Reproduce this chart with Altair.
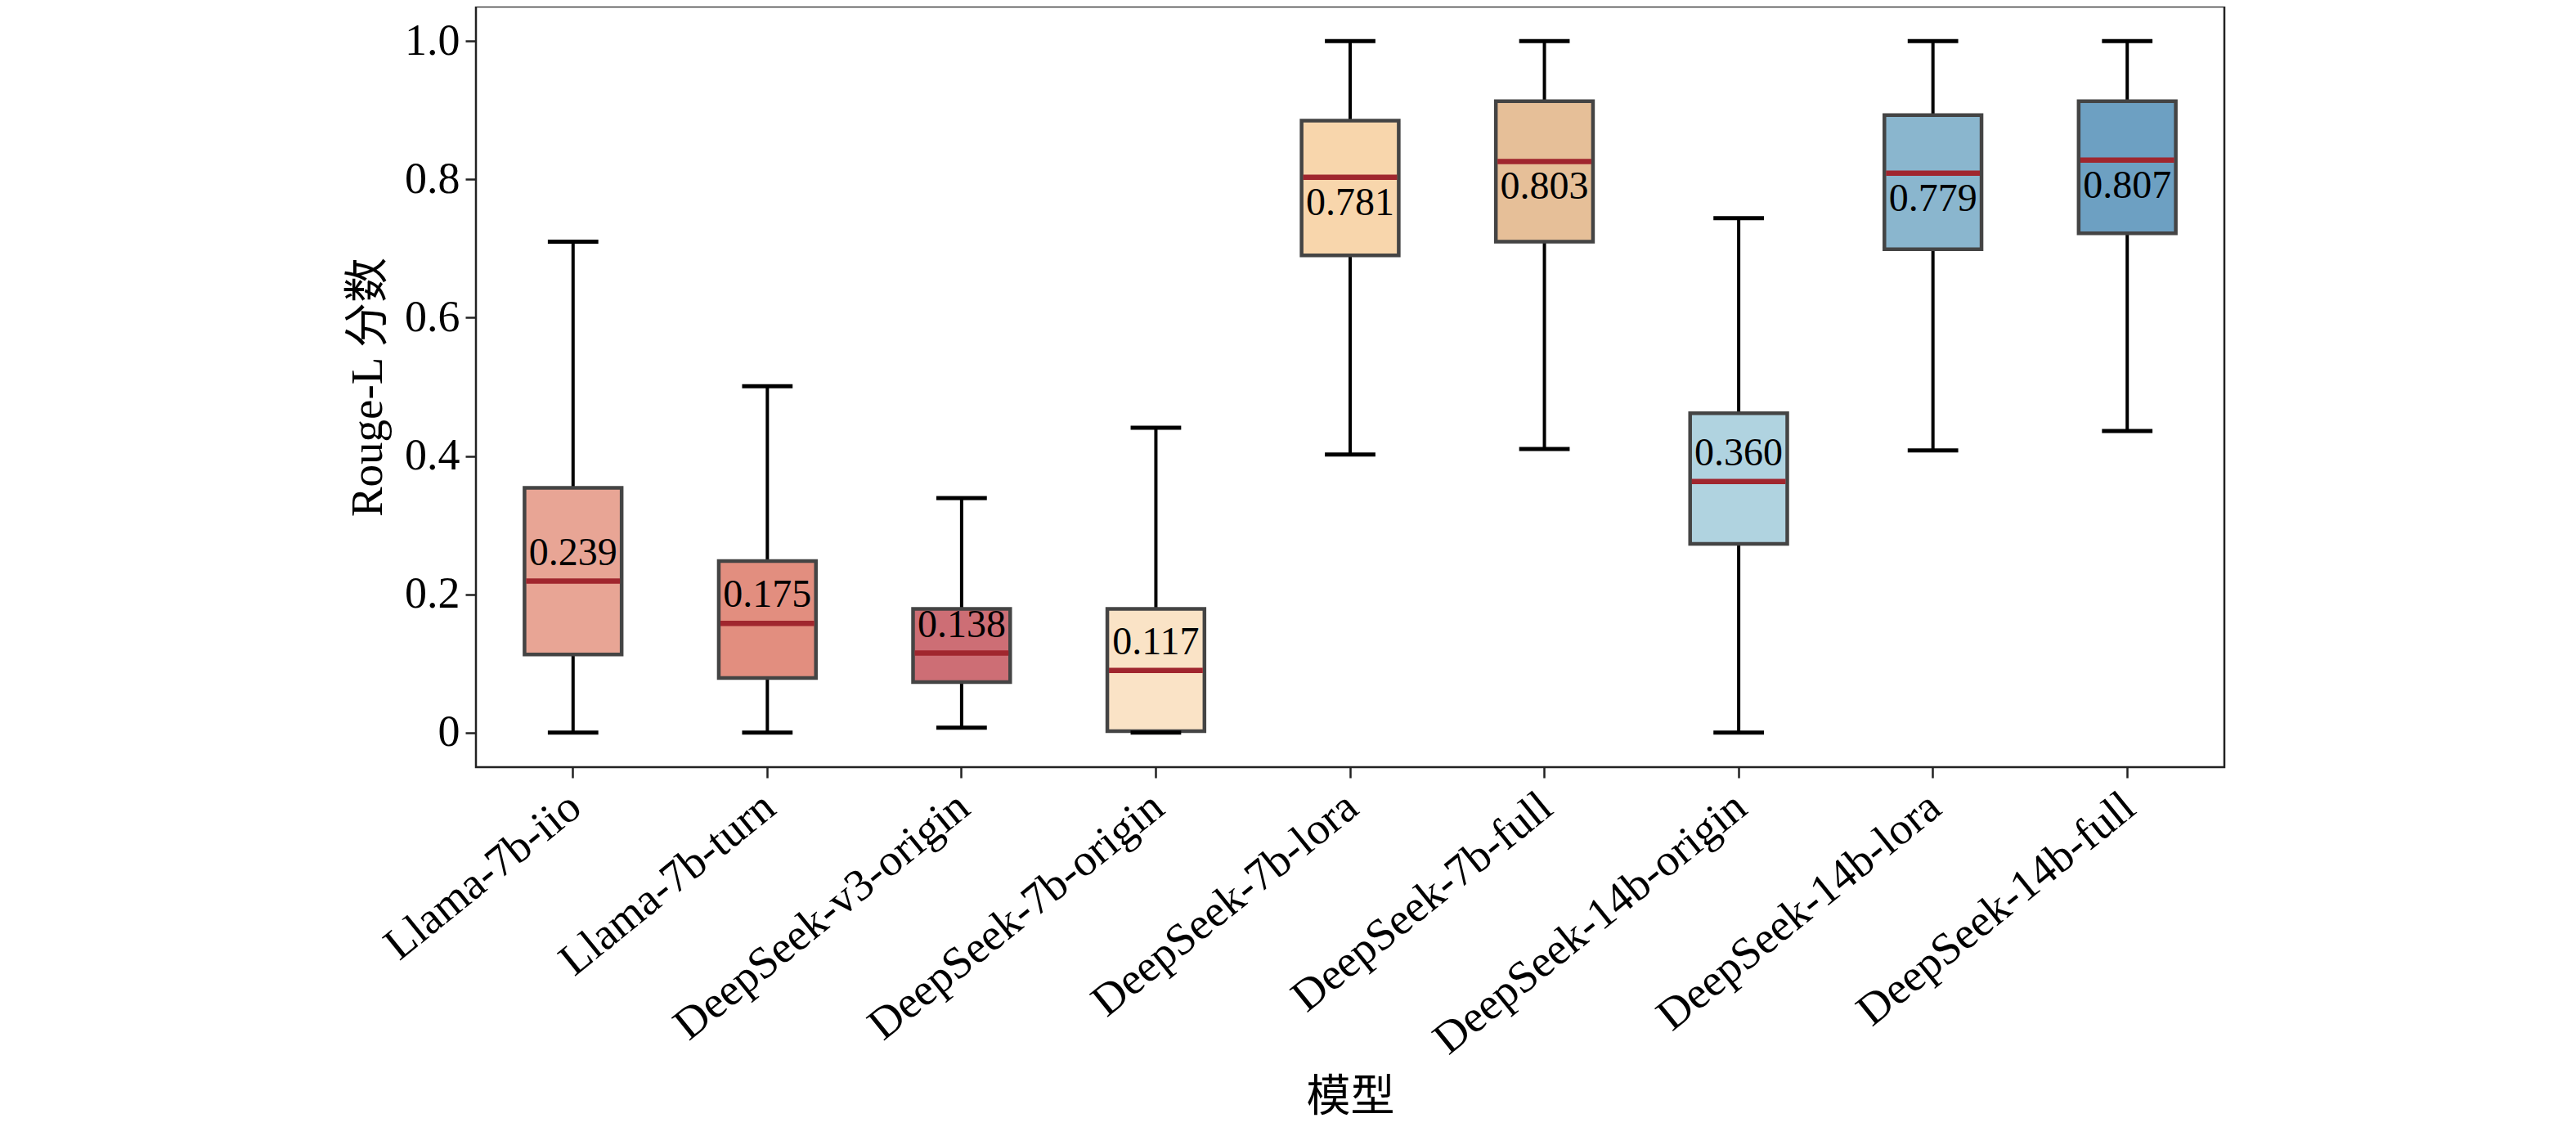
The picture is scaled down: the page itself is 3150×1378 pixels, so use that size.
import altair as alt
import pandas as pd

models = ["Llama-7b-iio", "Llama-7b-turn", "DeepSeek-v3-origin", "DeepSeek-7b-origin",
          "DeepSeek-7b-lora", "DeepSeek-7b-full", "DeepSeek-14b-origin",
          "DeepSeek-14b-lora", "DeepSeek-14b-full"]
whisker_low = [0.0, 0.0, 0.007, 0.0, 0.402, 0.410, 0.0, 0.408, 0.436]
q1 = [0.113, 0.079, 0.073, 0.002, 0.690, 0.710, 0.273, 0.699, 0.722]
median = [0.219, 0.158, 0.115, 0.090, 0.803, 0.826, 0.363, 0.809, 0.828]
q3 = [0.354, 0.248, 0.179, 0.179, 0.885, 0.913, 0.462, 0.893, 0.913]
whisker_high = [0.710, 0.501, 0.339, 0.441, 1.0, 1.0, 0.744, 1.0, 1.0]
mean_score = [0.239, 0.175, 0.138, 0.117, 0.781, 0.803, 0.360, 0.779, 0.807]
box_colors = ["#E8A595", "#E28E7F", "#CD6E75", "#FAE3C6", "#F8D6AC",
              "#E6BF98", "#B0D3E0", "#8AB6CE", "#6DA0C2"]

df = pd.DataFrame({
    "model": models, "lo": whisker_low, "q1": q1, "med": median,
    "q3": q3, "hi": whisker_high, "mean": mean_score,
})

FONT = "'Liberation Serif', 'Noto Sans CJK SC'"
W, H = 2138, 930
step = W / len(models)
box_w = step * 0.5
cap_w = step * 0.26

x = alt.X("model:N", sort=models, title="模型",
          scale=alt.Scale(paddingInner=0, paddingOuter=0),
          axis=alt.Axis(labelAngle=-39, labelAlign="right", labelBaseline="top",
                        labelFontSize=55, labelFont=FONT, labelColor="black", labelLimit=0,
                        labelPadding=8, labelOffset=-14, tickSize=13, tickWidth=2.5,
                        tickColor="#222", domain=False, titleFontSize=54, titleFont=FONT,
                        titleFontWeight="normal", titleColor="black",
                        titleY=404, titleBaseline="middle"))
yscale = alt.Scale(domain=[-0.05, 1.05], nice=False, zero=False)
y_axis = alt.Axis(values=[0, 0.2, 0.4, 0.6, 0.8, 1.0],
                  labelExpr="datum.value == 0 ? '0' : format(datum.value, '.1f')",
                  labelFontSize=54, labelFont=FONT, labelColor="black", labelPadding=7,
                  tickSize=13, tickWidth=2.5, tickColor="#222", domain=False, grid=False,
                  title="Rouge-L 分数", titleFontSize=55, titleFont=FONT,
                  titleFontWeight="normal", titleColor="black", titlePadding=16)

base = alt.Chart(df)

whisk = base.mark_rule(color="black", strokeWidth=4).encode(
    x=x, y=alt.Y("lo:Q", scale=yscale, axis=y_axis), y2="hi:Q")
box = base.mark_bar(size=box_w, stroke="#444444", strokeWidth=4.5).encode(
    x=x, y=alt.Y("q1:Q", scale=yscale), y2="q3:Q",
    color=alt.Color("model:N", sort=models,
                    scale=alt.Scale(domain=models, range=box_colors), legend=None))
cap_lo = base.mark_tick(color="black", size=cap_w, thickness=5, opacity=1).encode(
    x=x, y=alt.Y("lo:Q", scale=yscale))
cap_hi = base.mark_tick(color="black", size=cap_w, thickness=5, opacity=1).encode(
    x=x, y=alt.Y("hi:Q", scale=yscale))
med = base.mark_tick(color="#A0262E", size=box_w - 4, thickness=6.5, opacity=1).encode(
    x=x, y=alt.Y("med:Q", scale=yscale))
txt_up = base.transform_filter("datum.med < 0.5").mark_text(
    font=FONT, fontSize=48, color="black", baseline="middle", dy=-34).encode(
    x=x, y=alt.Y("med:Q", scale=yscale), text=alt.Text("mean:Q", format=".3f"))
txt_dn = base.transform_filter("datum.med >= 0.5").mark_text(
    font=FONT, fontSize=48, color="black", baseline="middle", dy=32).encode(
    x=x, y=alt.Y("med:Q", scale=yscale), text=alt.Text("mean:Q", format=".3f"))

chart = alt.layer(whisk, box, cap_lo, cap_hi, med, txt_up, txt_dn).properties(
    width=W, height=H,
    autosize=alt.AutoSizeParams(type="none"),
    padding={"left": 574, "top": 0, "right": 422, "bottom": 432},
).configure(
    background="white",
    view=alt.ViewConfig(stroke="#222222", strokeWidth=2.5),
)

chart.save("out.html", embed_options={"renderer": "svg", "actions": False})
